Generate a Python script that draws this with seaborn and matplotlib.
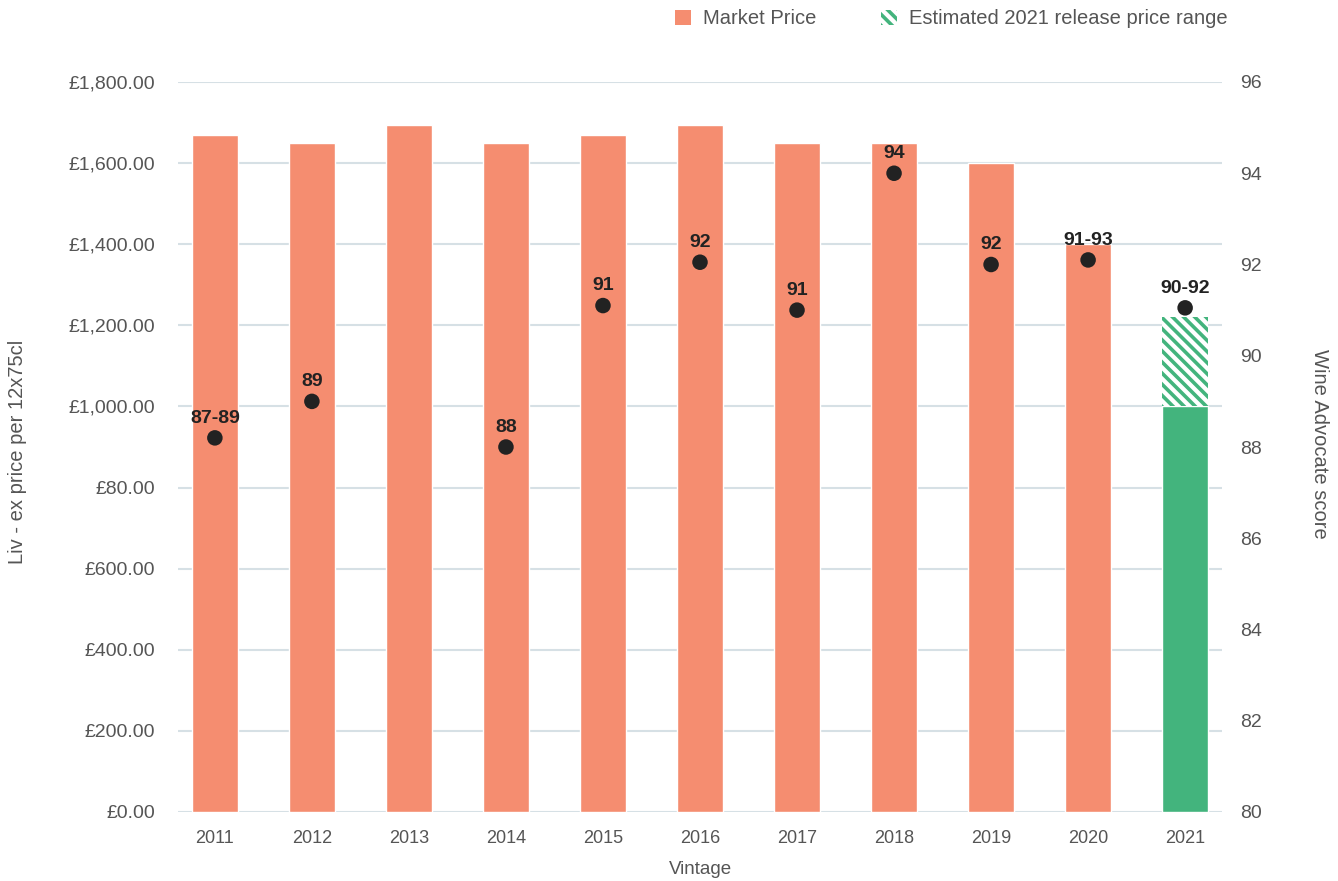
import matplotlib
matplotlib.use("Agg")
import matplotlib.pyplot as plt
import matplotlib.patches as mpatches
import seaborn as sns
import numpy as np
import pandas as pd

vintages = ["2011", "2012", "2013", "2014", "2015", "2016", "2017", "2018", "2019", "2020", "2021"]
market_price = [1670, 1650, 1695, 1650, 1670, 1695, 1650, 1650, 1600, 1400, np.nan]
release_low = [np.nan] * 10 + [1000]
release_high = [np.nan] * 10 + [1220]
scores = [88.2, 89.0, np.nan, 88.0, 91.1, 92.05, 91.0, 94.0, 92.0, 92.1, 91.05]
score_labels = ["87-89", "89", "", "88", "91", "92", "91", "94", "92", "91-93", "90-92"]
price_ticks = [0, 200, 400, 600, 800, 1000, 1200, 1400, 1600, 1800]
price_tick_labels = ["£0.00", "£200.00", "£400.00", "£600.00", "£80.00", "£1,000.00",
                     "£1,200.00", "£1,400.00", "£1,600.00", "£1,800.00"]
score_ticks = [80, 82, 84, 86, 88, 90, 92, 94, 96]

ORANGE = "#F58D70"
GREEN = "#43B47D"
GRID = "#D6E0E5"
TXT = "#555555"

sns.set_theme(style="white")
plt.rcParams["font.family"] = ["Liberation Sans", "DejaVu Sans"]
plt.rcParams["hatch.linewidth"] = 2.6
plt.rcParams["hatch.color"] = GREEN

fig = plt.figure(figsize=(13.38, 8.81), dpi=100)
ax = fig.add_axes([178 / 1338, 1 - 812 / 881, (1222 - 178) / 1338, (812 - 82) / 881])

df = pd.DataFrame({"vintage": vintages, "price": market_price, "low": release_low})
sns.barplot(data=df, x="vintage", y="price", order=vintages, color=ORANGE,
            saturation=1, width=0.47, ax=ax)
sns.barplot(data=df, x="vintage", y="low", order=vintages, color=GREEN,
            saturation=1, width=0.47, ax=ax)

idx = np.arange(len(vintages))
hi = np.array(release_high, dtype=float)
lo = np.array(release_low, dtype=float)
mask = ~np.isnan(hi)
ax.bar(idx[mask], (hi - lo)[mask], bottom=lo[mask], width=0.47, color="white",
       edgecolor=GREEN, hatch="\\\\\\", linewidth=0)

ax.set_xlim(-0.38, 10.38)
ax.set_ylim(0, 1800)
ax.set_yticks(price_ticks)
ax.set_yticklabels(price_tick_labels)
ax.yaxis.grid(True, color=GRID, linewidth=1.5)
ax.set_axisbelow(True)
for s in ax.spines.values():
    s.set_visible(False)
ax.tick_params(axis="both", length=0, labelsize=13, labelcolor=TXT)
ax.tick_params(axis="y", labelsize=14, pad=16.5)
ax.tick_params(axis="x", pad=13)
ax.set_xlabel("Vintage", fontsize=13.5, color=TXT, labelpad=10)
ax.set_ylabel("")
fig.text(18 / 1338, 1 - 452 / 881, "Liv - ex price per 12x75cl", rotation=90,
         fontsize=14.5, color=TXT, ha="center", va="center")

ax2 = ax.twinx()
ax2.set_ylim(80, 96)
ax2.set_yticks(score_ticks)
for s in ax2.spines.values():
    s.set_visible(False)
ax2.tick_params(axis="y", length=0, labelsize=14, labelcolor=TXT, pad=13)
sdf = pd.DataFrame({"x": idx, "score": scores})
sns.scatterplot(data=sdf, x="x", y="score", ax=ax2, color="#222222", s=125,
                edgecolor="none", zorder=5)
for i, (sc, lab) in enumerate(zip(scores, score_labels)):
    if np.isnan(sc) or not lab:
        continue
    ax2.annotate(lab, (i, sc), xytext=(0, 8), textcoords="offset points",
                 ha="center", va="bottom", fontsize=14, fontweight="bold", color="#222222")
ax2.set_xlabel("")
ax2.set_ylabel("")
ax.set_xlim(-0.38, 10.38)
fig.text(1320 / 1338, 1 - 444 / 881, "Wine Advocate score", rotation=270,
         fontsize=14.5, color=TXT, ha="center", va="center")

handles = [mpatches.Patch(facecolor=ORANGE, edgecolor="none", label="Market Price"),
           mpatches.Patch(facecolor="white", edgecolor=GREEN, hatch="\\\\\\", linewidth=0,
                          label="Estimated 2021 release price range")]
fig.legend(handles=handles, loc="center right", bbox_to_anchor=(1246 / 1338, 1 - 19 / 881),
           ncol=2, frameon=False, fontsize=14.5, labelcolor=TXT, handlelength=0.8,
           handleheight=0.8, handletextpad=0.6, columnspacing=3.2)

fig.savefig("out.png", dpi=100)
